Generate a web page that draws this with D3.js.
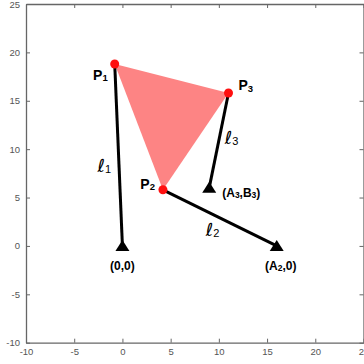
<!DOCTYPE html>
<html><head><meta charset="utf-8">
<script src="https://cdn.jsdelivr.net/npm/d3@7"></script>
<style>
html,body{margin:0;padding:0;background:#fff;}
svg{display:block;}
</style></head>
<body><svg id="c" width="364" height="364"></svg>
<script>
// Data
const tickValues = [-10, -5, 0, 5, 10, 15, 20, 25];
const pointNames = ["P1", "P2", "P3"];
const pointX = [-0.8, 4.2, 11.0];
const pointY = [18.8, 5.8, 15.8];
const anchorNames = ["(0,0)", "(A2,0)", "(A3,B3)"];
const anchorX = [0, 16, 9];
const anchorY = [0, 0, 6];
const legNames = ["l1", "l2", "l3"];

const svg = d3.select("#c");
const x = d3.scaleLinear().domain([-10, 25]).range([26, 363.5]);
const y = d3.scaleLinear().domain([-10, 25]).range([342.7, 4]);
const axisColor = "#666";
const font = "'Liberation Sans', Arial, sans-serif";
const fmt = d => String(d);

// axes
function styleAxis(g) {
  g.selectAll("path").attr("stroke", axisColor).attr("stroke-width", 1.3);
  g.selectAll("line").attr("stroke", axisColor).attr("stroke-width", 1);
  g.selectAll("text").attr("fill", "#555").attr("font-family", font).attr("font-size", 9.5);
}
svg.append("g").attr("transform", `translate(0,${y(-10)})`)
  .call(d3.axisBottom(x).tickValues(tickValues).tickSizeInner(-4).tickSizeOuter(0).tickPadding(6).tickFormat(fmt))
  .call(styleAxis);
svg.append("g").attr("transform", `translate(${x(-10)},0)`)
  .call(d3.axisLeft(y).tickValues(tickValues).tickSizeInner(-4).tickSizeOuter(0).tickPadding(6).tickFormat(fmt))
  .call(styleAxis);
svg.append("g").attr("transform", `translate(0,${y(25)})`)
  .call(d3.axisTop(x).tickValues(tickValues).tickSizeInner(-4).tickSizeOuter(0).tickFormat(""))
  .call(styleAxis);
svg.append("g").attr("transform", `translate(${x(25)},0)`)
  .call(d3.axisRight(y).tickValues(tickValues).tickSizeInner(-4).tickSizeOuter(0).tickFormat(""))
  .call(styleAxis);

// triangle fill
const pts = pointX.map((d, i) => [x(d), y(pointY[i])]);
svg.append("path").attr("d", d3.line()(pts) + "Z").attr("fill", "#fd8484").attr("stroke", "none");

// legs
svg.selectAll("line.leg").data(pointX).join("line").attr("class", "leg")
  .attr("x1", (d, i) => x(pointX[i])).attr("y1", (d, i) => y(pointY[i]))
  .attr("x2", (d, i) => x(anchorX[i])).attr("y2", (d, i) => y(anchorY[i]))
  .attr("stroke", "#000").attr("stroke-width", 3);

// anchors (triangle markers)
svg.selectAll("path.anchor").data(anchorX).join("path").attr("class", "anchor")
  .attr("transform", (d, i) => `translate(${x(anchorX[i])},${y(anchorY[i])})`)
  .attr("d", "M0,-6L7,5L-7,5Z").attr("fill", "#000");

// points
svg.selectAll("circle.pt").data(pointX).join("circle").attr("class", "pt")
  .attr("cx", (d, i) => x(pointX[i])).attr("cy", (d, i) => y(pointY[i]))
  .attr("r", 4.5).attr("fill", "#ff1010");

function sub(textSel, main, s, mainSize, subSize) {
  textSel.append("tspan").text(main).attr("font-size", mainSize);
  textSel.append("tspan").text(s).attr("font-size", subSize).attr("dy", 1.5);
}

// point labels
const pLabelOff = [[-7, 16, "end"], [-8, -1, "end"], [10, -3, "start"]];
pointNames.forEach((n, i) => {
  const t = svg.append("text").attr("x", x(pointX[i]) + pLabelOff[i][0]).attr("y", y(pointY[i]) + pLabelOff[i][1])
    .attr("text-anchor", pLabelOff[i][2]).attr("font-family", font).attr("font-weight", "bold").attr("fill", "#000");
  sub(t, "P", n.slice(1), 14, 9.5);
});

// anchor labels
const aLabelOff = [[0, 24, "middle"], [4, 24, "middle"], [13, 9, "start"]];
anchorNames.forEach((n, i) => {
  const t = svg.append("text").attr("x", x(anchorX[i]) + aLabelOff[i][0]).attr("y", y(anchorY[i]) + aLabelOff[i][1])
    .attr("text-anchor", aLabelOff[i][2]).attr("font-family", font).attr("font-weight", "bold").attr("fill", "#000")
    .attr("font-size", 12);
  if (i === 0) t.text(n);
  else if (i === 1) {
    t.append("tspan").text("(A");
    t.append("tspan").text("2").attr("font-size", 8.5).attr("dy", 1);
    t.append("tspan").text(",0)").attr("dy", -1);
  } else {
    t.append("tspan").text("(A");
    t.append("tspan").text("3").attr("font-size", 8.5).attr("dy", 1);
    t.append("tspan").text(",B").attr("dy", -1);
    t.append("tspan").text("3").attr("font-size", 8.5).attr("dy", 1);
    t.append("tspan").text(")").attr("dy", -1);
  }
});

// leg labels (ℓ)
const lOff = [[-21, 17], [-14, 18], [6, 4]];
legNames.forEach((n, i) => {
  const mx = (x(pointX[i]) + x(anchorX[i])) / 2, my = (y(pointY[i]) + y(anchorY[i])) / 2;
  const t = svg.append("text").attr("x", mx + lOff[i][0]).attr("y", my + lOff[i][1])
    .attr("font-family", "'DejaVu Sans', sans-serif").attr("fill", "#000");
  t.append("tspan").text("\u2113").attr("font-size", 18).attr("font-style", "italic");
  t.append("tspan").text(n.slice(1)).attr("font-size", 11).attr("dy", 1).attr("font-family", font);
});
</script></body></html>
